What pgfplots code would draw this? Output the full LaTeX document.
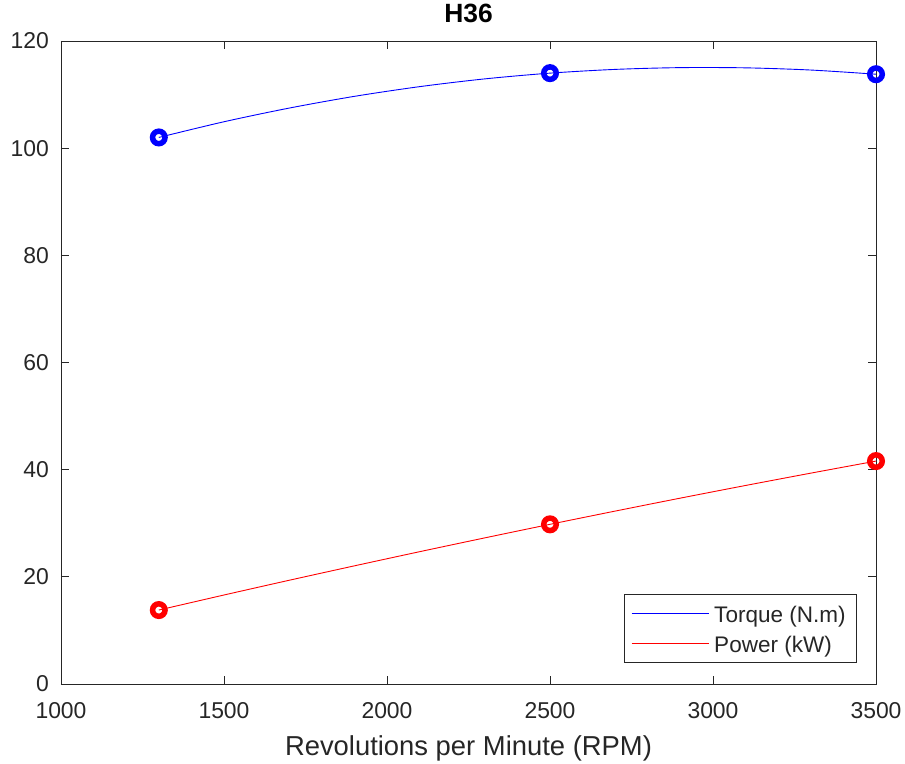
\documentclass[border=0pt]{standalone}
\usepackage{fontspec}
\setmainfont{Liberation Sans}
\usepackage{pgfplots}
\pgfplotsset{compat=1.18}
\definecolor{axgray}{RGB}{38,38,38}
\definecolor{mblue}{RGB}{0,0,255}
\definecolor{mred}{RGB}{255,0,0}
\begin{document}
\begin{tikzpicture}[x=1bp,y=1bp]
\useasboundingbox (-61bp,-80bp) rectangle (844bp,684bp);
\begin{axis}[
  at={(0,0)}, anchor=south west,
  scale only axis, width=815bp, height=643bp,
  xmin=1000, xmax=3500, ymin=0, ymax=120,
  xtick={1000,1500,...,3500}, ytick={0,20,...,120},
  tick align=inside, major tick length=8bp,
  tick style={axgray, line width=0.8bp},
  axis line style={axgray, line width=0.8bp},
  /pgf/number format/assume math mode=true,
  /pgf/number format/1000 sep={},
  tick label style={font=\fontsize{23}{26}\selectfont, text=axgray, inner sep=0pt},
  xticklabel style={anchor=base, yshift=-34bp},
  yticklabel style={anchor=east, xshift=-12bp},
  xlabel={Revolutions per Minute (RPM)},
  xlabel style={font=\fontsize{27.5}{30}\selectfont, text=axgray, inner sep=0pt,
    at={(axis description cs:0.5,0)}, anchor=base, yshift=-71bp},
  title={\textbf{H36}},
  title style={font=\fontsize{26.5}{30}\selectfont, inner sep=0pt,
    at={(axis description cs:0.5,1)}, anchor=base, yshift=13bp},
  legend style={at={(rel axis cs:1,0)}, anchor=south east, xshift=-19bp, yshift=21bp,
    draw=axgray, fill=white, text=axgray, line width=0.8bp, font=\fontsize{22.6}{26}\selectfont,
    inner xsep=6.5bp, inner ysep=8.5bp, row sep=9bp, column sep=0.5bp,
    nodes={inner xsep=4.5bp, inner ysep=0bp, text height=19bp, text depth=2bp}},
  legend cell align=left,
]
\addplot[mblue, line width=0.9bp, smooth, no marks,
  legend image code/.code={\draw[draw=mblue, line width=1bp] (0bp,0.4bp) -- (77bp,0.4bp);}] coordinates {
 (1300,102.0) (1500,104.93) (1700,107.48) (1900,109.67) (2100,111.48) (2300,112.93)
 (2500,114.0) (2700,114.70) (2900,115.03) (3100,114.99) (3300,114.58) (3500,113.8)};
\addlegendentry{Torque (N.m)}
\addplot[mred, line width=0.9bp, smooth, no marks,
  legend image code/.code={\draw[draw=mred, line width=1bp] (0bp,0.4bp) -- (77bp,0.4bp);}] coordinates {
 (1300,13.8) (1500,16.61) (1700,19.36) (1900,22.05) (2100,24.69) (2300,27.27)
 (2500,29.8) (2700,32.27) (2900,34.69) (3100,37.05) (3300,39.35) (3500,41.6)};
\addlegendentry{Power (kW)}
\addplot[forget plot, only marks, mark=o, mark size=6.25bp, mark options={mblue, line width=5.5bp}]
 coordinates {(1300,102.0) (2500,114.0) (3500,113.8)};
\addplot[forget plot, only marks, mark=o, mark size=6.25bp, mark options={mred, line width=5.5bp}]
 coordinates {(1300,13.8) (2500,29.8) (3500,41.6)};
\end{axis}
\end{tikzpicture}
\end{document}
